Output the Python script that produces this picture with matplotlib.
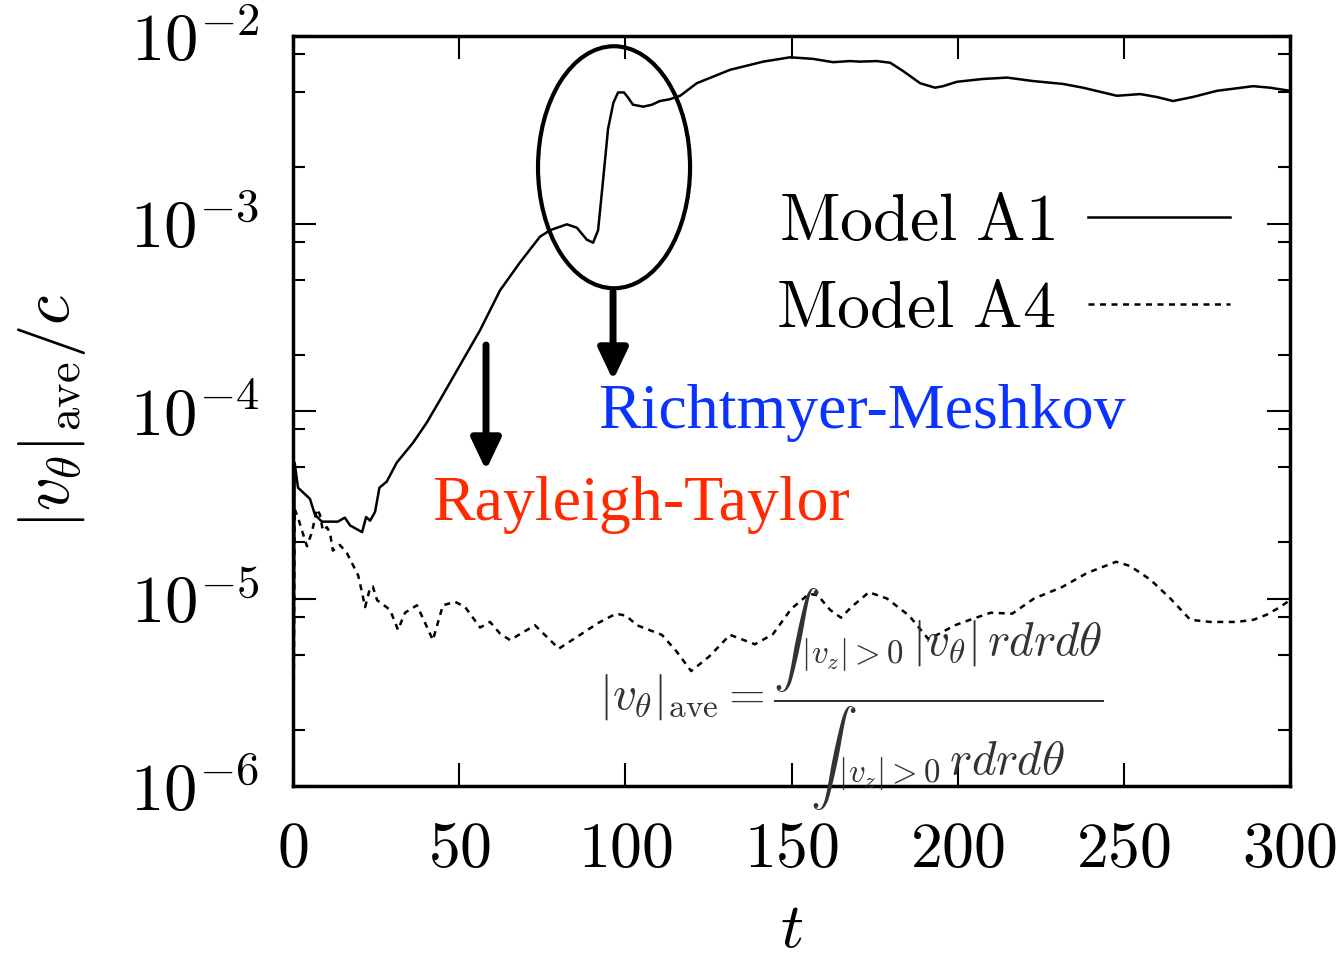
import numpy as np
import matplotlib
matplotlib.use("Agg")
import matplotlib.pyplot as plt
from matplotlib.ticker import LogLocator, FuncFormatter, NullFormatter
from matplotlib.patches import Ellipse, FancyArrowPatch

plt.rcParams['font.family'] = 'cmr10'
plt.rcParams['mathtext.fontset'] = 'cm'
plt.rcParams['axes.formatter.use_mathtext'] = True

# Model A1 (solid)
t_a1 = [0.0, 0.5, 1.5, 5.1, 6.6, 8.7, 13.5, 15.6, 17.2, 20.8, 22.0, 23.2, 24.7,
        26.0, 28.2, 31.2, 36.2, 40.3, 44.3, 56.3, 62.3, 68.3, 74.3, 77.3, 82.4,
        85.4, 88.4, 90.3, 91.8, 93.3, 94.8, 96.4, 97.8, 99.6, 100.8, 102.3, 105.4,
        108.0, 110.4, 113.4, 116.5, 121.5, 131.5, 141.5, 149.6, 156.5, 162.5,
        167.6, 170.6, 175.7, 179.7, 183.6, 188.7, 193.2, 195.6, 199.8, 207.6,
        214.9, 222.7, 231.7, 237.7, 247.9, 254.9, 259.9, 264.8, 270.8, 278.0,
        288.9, 294.0, 300.0]
v_a1 = [5e-7, 5.3e-5, 3.9e-5, 3.4e-5, 2.8e-5, 2.57e-5, 2.57e-5, 2.7e-5, 2.45e-5,
        2.26e-5, 2.72e-5, 2.6e-5, 2.9e-5, 3.9e-5, 4.2e-5, 5.3e-5, 6.8e-5, 8.7e-5,
        1.15e-4, 2.7e-4, 4.4e-4, 6.2e-4, 8.5e-4, 9.2e-4, 9.9e-4, 9.5e-4, 8.2e-4,
        7.9e-4, 9.2e-4, 1.7e-3, 3.2e-3, 4.4e-3, 5.0e-3, 5.0e-3, 4.7e-3, 4.3e-3,
        4.2e-3, 4.3e-3, 4.5e-3, 4.6e-3, 4.8e-3, 5.6e-3, 6.6e-3, 7.3e-3, 7.7e-3,
        7.55e-3, 7.25e-3, 7.35e-3, 7.3e-3, 7.35e-3, 7.2e-3, 6.5e-3, 5.6e-3,
        5.3e-3, 5.4e-3, 5.7e-3, 5.9e-3, 6.0e-3, 5.75e-3, 5.55e-3, 5.3e-3, 4.8e-3,
        4.9e-3, 4.73e-3, 4.5e-3, 4.73e-3, 5.1e-3, 5.4e-3, 5.3e-3, 5.1e-3]

# Model A4 (dashed)
t_a4 = [0.0, 0.5, 1.5, 2.7, 4.2, 5.7, 7.2, 8.1, 9.0, 10.2, 11.1, 12.0, 14.1, 16.2,
        17.7, 19.6, 20.8, 21.7, 23.2, 24.0, 25.3, 29.2, 31.6, 33.7, 37.3, 42.1,
        45.1, 48.8, 51.8, 56.3, 59.3, 62.3, 65.3, 72.8, 80.0, 86.4, 91.8, 97.2,
        100.2, 103.5, 111.0, 115.3, 119.8, 125.2, 131.5, 139.0, 144.4, 149.9,
        155.3, 157.9, 161.6, 164.9, 168.0, 173.3, 178.7, 185.4, 191.1, 193.8,
        199.2, 204.6, 210.0, 216.4, 223.0, 231.4, 239.0, 247.7, 251.9, 258.0,
        264.0, 270.0, 276.0, 284.0, 289.0, 293.0, 297.0, 300.0]
v_a4 = [5e-7, 3.0e-5, 2.7e-5, 2.3e-5, 1.9e-5, 2.26e-5, 3.0e-5, 2.8e-5, 2.3e-5,
        2.4e-5, 2.25e-5, 1.8e-5, 1.93e-5, 1.75e-5, 1.55e-5, 1.33e-5, 1.07e-5,
        9.0e-6, 1.14e-5, 1.16e-5, 9.8e-6, 8.7e-6, 6.8e-6, 8.4e-6, 9.2e-6, 6.0e-6,
        9.2e-6, 9.6e-6, 9.0e-6, 7.0e-6, 7.5e-6, 6.5e-6, 6.0e-6, 7.2e-6, 5.4e-6,
        6.4e-6, 7.4e-6, 8.3e-6, 8.1e-6, 7.2e-6, 6.4e-6, 5.25e-6, 4.1e-6, 4.9e-6,
        6.4e-6, 5.7e-6, 6.45e-6, 8.8e-6, 1.06e-5, 1.04e-5, 8.7e-6, 7.9e-6, 9.0e-6,
        1.08e-5, 1.0e-5, 8.1e-6, 6.1e-6, 6.4e-6, 7.2e-6, 7.8e-6, 8.4e-6, 8.3e-6,
        1.0e-5, 1.15e-5, 1.37e-5, 1.57e-5, 1.49e-5, 1.26e-5, 1.0e-5, 7.7e-6,
        7.5e-6, 7.5e-6, 7.7e-6, 8.2e-6, 9.0e-6, 9.8e-6]

xticks = [0, 50, 100, 150, 200, 250, 300]

fig = plt.figure(figsize=(13.41, 9.58), dpi=100)
ax = fig.add_axes([293 / 1341, 1 - 786 / 958, 997 / 1341, 750 / 958])

ax.plot(t_a1, v_a1, color='black', lw=1.8, solid_joinstyle='round')
ax.plot(t_a4, v_a4, color='black', lw=1.8, dashes=(2.4, 2.2))

ax.set_yscale('log')
ax.set_xlim(0, 300)
ax.set_ylim(1e-6, 1e-2)
ax.set_xticks(xticks)
ax.yaxis.set_major_locator(LogLocator(base=10))
ax.yaxis.set_minor_locator(LogLocator(base=10, subs=(2, 5, 8)))
ax.yaxis.set_major_formatter(FuncFormatter(lambda v, p: r'$10^{%d}$' % round(np.log10(v))))
ax.yaxis.set_minor_formatter(NullFormatter())

for s in ax.spines.values():
    s.set_linewidth(2.5)
ax.tick_params(which='both', direction='in', top=True, right=True, width=1.5)
ax.tick_params(which='major', length=16.5)
ax.tick_params(which='minor', length=8.5)
ax.tick_params(axis='x', pad=26, labelsize=46)
ax.tick_params(axis='y', pad=24, labelsize=48)

ax.set_xlabel(r'$t$', fontsize=46, labelpad=16)
ax.set_ylabel(r'$|v_\theta|_{\rm ave}/c$', fontsize=48, labelpad=30)

# legend
ax.legend([r'$\mathrm{Model\ A1}$', r'$\mathrm{Model\ A4}$'], loc='upper right',
          bbox_to_anchor=(0.94, 0.79), frameon=False, markerfirst=False,
          fontsize=47.5, handlelength=2.15, handletextpad=0.5, labelspacing=0.42,
          borderpad=0, borderaxespad=0)

# instability annotations
ax.add_patch(Ellipse((0.322, 0.825), 0.1525, 0.3227, transform=ax.transAxes,
                     fill=False, lw=3, ec='black'))
for x0, y0, y1 in [(0.321, 0.659, 0.541), (0.1936, 0.588, 0.421)]:
    ax.add_patch(FancyArrowPatch((x0, y0), (x0, y1), transform=ax.transAxes,
                                 arrowstyle='-|>,head_length=0.95,head_width=0.45',
                                 mutation_scale=20, lw=5, color='black',
                                 shrinkA=0, shrinkB=0))

ax.text(0.1394, 0.355, 'Rayleigh-Taylor', transform=ax.transAxes, fontsize=46,
        family='Liberation Serif', color='#ff2a00', ha='left', va='baseline')
ax.text(0.306, 0.477, 'Richtmyer-Meshkov', transform=ax.transAxes, fontsize=46,
        family='Liberation Serif', color='#0a33ff', ha='left', va='baseline')

# definition of the average
ax.text(0.56, 0.115,
        r'$|v_\theta|_{\rm ave} = \dfrac{\int{}_{|v_z|>0}\,|v_\theta|\, r dr d\theta}'
        r'{\int{}_{|v_z|>0}\, r dr d\theta}$',
        transform=ax.transAxes, fontsize=34, color='#333333', ha='center', va='center')

fig.savefig('out.png', dpi=100)
